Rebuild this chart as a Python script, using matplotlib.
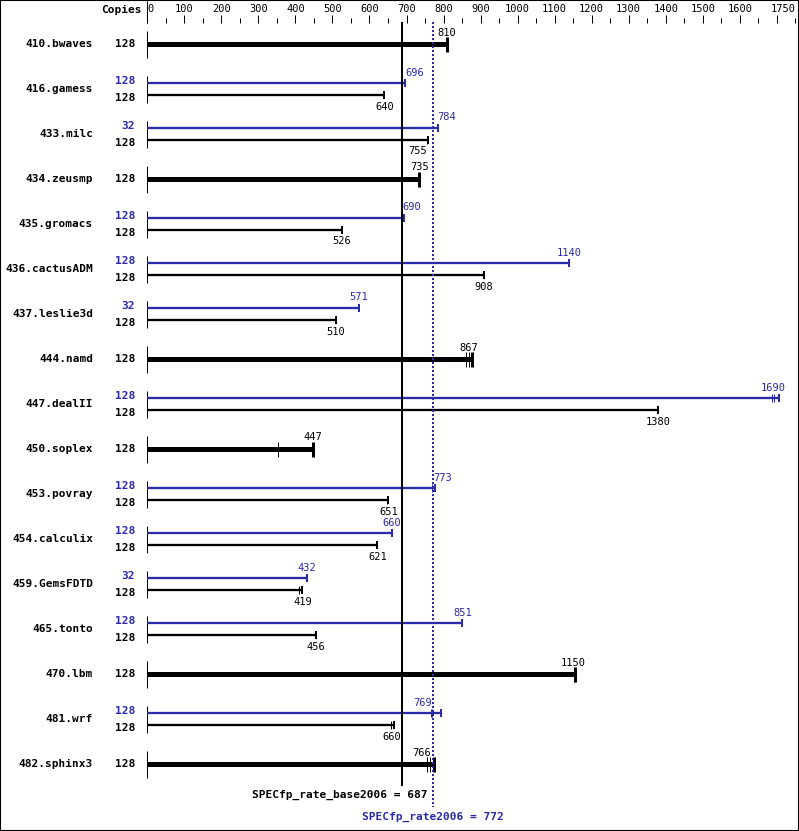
import matplotlib.pyplot as plt
from matplotlib.patches import Rectangle

# SPECfp_rate2006 results (base = black, peak = blue)
benchmarks = ['410.bwaves', '416.gamess', '433.milc', '434.zeusmp', '435.gromacs',
              '436.cactusADM', '437.leslie3d', '444.namd', '447.dealII', '450.soplex',
              '453.povray', '454.calculix', '459.GemsFDTD', '465.tonto', '470.lbm',
              '481.wrf', '482.sphinx3']
base_copies = [128] * 17
peak_copies = [None, 128, 32, None, 128, 128, 32, None, 128, None, 128, 128, 32, 128, None, 128, None]
base_scores = [810, 640, 755, 735, 526, 908, 510, 867, 1380, 447, 651, 621, 419, 456, 1150, 660, 766]
peak_scores = [None, 696, 784, None, 690, 1140, 571, None, 1690, None, 773, 660, 432, 851, None, 769, None]
# individual run results (tick marks)
base_runs = [[810], [640], [755, 758], [735], [526], [908], [510], [862, 868, 877], [1380],
             [353, 447], [646, 651], [621], [410, 419], [456], [1151, 1156], [657, 665],
             [756, 764, 773]]
peak_runs = [None, [696], [784], None, [688, 692], [1140], [571], None, [1687, 1693, 1707],
             None, [768, 776], [660], [432], [851], None, [767, 770, 793], None]
base_mean = 687
peak_mean = 772
axis_ticks = list(range(0, 1751, 50))
axis_labels = list(range(0, 1601, 100)) + [1750]

BLUE = '#2a2aaa'
MONO = 'DejaVu Sans Mono'
PX = 0.72  # points per pixel at 100 dpi
W, H = 799, 831

fig = plt.figure(figsize=(W / 100, H / 100), dpi=100)
ax = fig.add_axes([0, 0, 1, 1])
x0px, scale = 147.3, 0.3703
ax.set_xlim(-x0px / scale, (W - x0px) / scale)
row0, rowh = 44, 45


def py(p):
    return (p - row0) / rowh


ax.set_ylim(py(H), py(0))
ax.axis('off')
lab_tr = ax.get_yaxis_transform()


def draw_bar(y, runs, score, color, thick, above):
    end = max(runs)
    ax.plot([0, end], [y, y], color=color, lw=(5 if thick else 2.3) * PX, solid_capstyle='butt')
    half = (7.5 if thick else 4) / rowh
    for r in runs:
        if r != end:
            ax.vlines(r, y - half, y + half, color=color, lw=PX)
    ax.vlines(end, y - half, y + half, color=color, lw=(3 if thick else 2) * PX)
    if thick:
        ty = y - 11.5 / rowh
    elif above:
        ty = y - 10.5 / rowh
    else:
        ty = y + 11.5 / rowh
    ha = 'center'
    for m in (base_mean, peak_mean):
        if abs(score - m) < 25:
            ha = 'left' if score > m else 'right'
    ax.text(score, ty, str(score), color=color, ha=ha, va='center', fontsize=7.5, family=MONO)


for i, name in enumerate(benchmarks):
    ax.vlines(0, i - 13.5 / rowh, i + 13.5 / rowh, color='black', lw=PX)
    ax.text(93 / W, i, name, transform=lab_tr, ha='right', va='center',
            fontsize=8, fontweight='bold', family=MONO)
    if peak_scores[i] is not None:
        draw_bar(i - 6 / rowh, peak_runs[i], peak_scores[i], BLUE, False, True)
        draw_bar(i + 6 / rowh, base_runs[i], base_scores[i], 'black', False, False)
        ax.text(135 / W, i - 8 / rowh, str(peak_copies[i]), transform=lab_tr, ha='right',
                va='center', fontsize=8, fontweight='bold', family=MONO, color=BLUE)
        ax.text(135 / W, i + 9 / rowh, str(base_copies[i]), transform=lab_tr, ha='right',
                va='center', fontsize=8, fontweight='bold', family=MONO)
    else:
        draw_bar(i, base_runs[i], base_scores[i], 'black', True, True)
        ax.text(135 / W, i, str(base_copies[i]), transform=lab_tr, ha='right',
                va='center', fontsize=8, fontweight='bold', family=MONO)

# top scale
ax.vlines(0, py(1), py(23), color='black', lw=PX)
for v in axis_ticks:
    top = 15 if v % 100 == 0 else 18
    ax.vlines(v, py(top), py(23), color='black', lw=PX)
for v in axis_labels:
    ha = 'center'
    if v == 0:
        ha = 'left'
    elif v == axis_labels[-1]:
        ha = 'right'
    ax.text(v, py(9), str(v), ha=ha, va='center', fontsize=7.5, family=MONO)
ax.text(142 / W, py(10), 'Copies', transform=lab_tr, ha='right', va='center',
        fontsize=8, fontweight='bold', family=MONO)

# mean lines
ax.vlines(base_mean, py(22), py(786), color='black', lw=2 * PX, zorder=3)
ax.plot([peak_mean, peak_mean], [py(22), py(807)], color=BLUE, lw=2 * PX,
        linestyle=(0, (1, 1)), zorder=4)
ax.annotate('SPECfp_rate_base2006 = %d' % base_mean, xy=(peak_mean, py(795)),
            xytext=(-4, 0), textcoords='offset points', ha='right', va='center',
            fontsize=8, fontweight='bold', family=MONO)
ax.text(peak_mean, py(817), 'SPECfp_rate2006 = %d' % peak_mean, ha='center', va='center',
        fontsize=8, fontweight='bold', family=MONO, color=BLUE)

fig.patches.append(Rectangle((0, 0), 1, 1, transform=fig.transFigure, fill=False,
                             ec='black', lw=1.5))
fig.savefig('out.png', dpi=100)
